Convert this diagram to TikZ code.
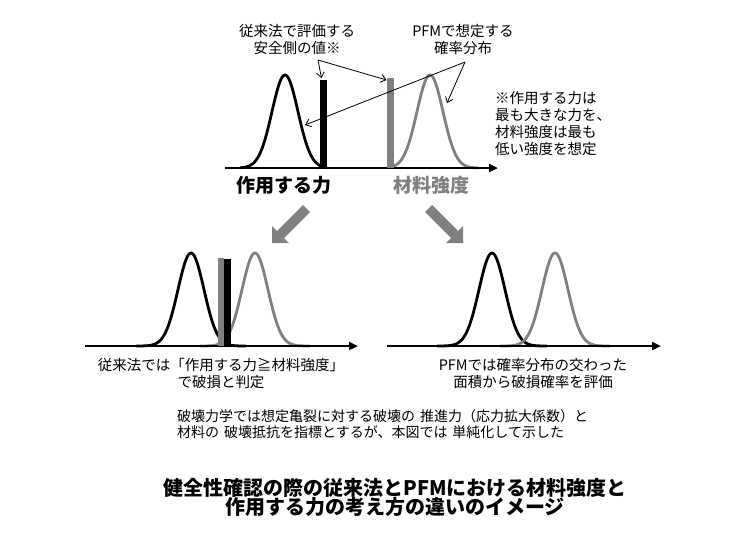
\documentclass[tikz,border=0pt]{standalone}
\usepackage{fontspec}
\setmainfont{Noto Sans CJK JP}
\usetikzlibrary{arrows.meta}
\definecolor{mgray}{RGB}{128,128,128}
\tikzset{
  lbl/.style={inner sep=0pt, font=\fontsize{14.5}{17}\selectfont},
  notetxt/.style={inner sep=0pt, font=\fontsize{14}{16.5}\selectfont},
  boldlbl/.style={inner sep=0pt, font=\fontsize{19}{22}\selectfont\bfseries},
  titletxt/.style={inner sep=0pt, font=\fontsize{20}{19.5}\selectfont\bfseries},
  curveblack/.style={line width=2.8pt, black, line join=round},
  curvegray/.style={line width=2.8pt, mgray, line join=round},
  axisline/.style={line width=2.5pt, black, -{Triangle[length=9pt,width=8pt]}},
  pointer/.style={line width=0.8pt, black, -{Straight Barb[length=5pt,width=8pt]}},
  blockarrow/.style={fill=mgray, draw=none},
}
\begin{document}
\begin{tikzpicture}[x=1pt,y=-1pt]
\useasboundingbox[fill=white] (0,0) rectangle (753,533);

% ---------- top panel ----------
\draw[curveblack] plot[domain=240:327, samples=90] (\x, {168-93*exp(-((\x-285)^2)/338)});
\draw[curvegray] plot[domain=388:478, samples=90] (\x, {168-93*exp(-((\x-430)^2)/338)});
\draw[axisline] (225,168) -- (498,168);
\fill[black] (320,80) rectangle (327,168);
\fill[mgray] (387,78) rectangle (394,168);

\node[lbl, align=center] (t1) at (297,40) {従来法で評価する\\安全側の値※};
\node[lbl, align=center] (t2) at (463,40) {PFMで想定する\\確率分布};
\node[lbl, align=left, anchor=west] (t3) at (495,123.5) {※作用する力は\\最も大きな力を、\\材料強度は最も\\低い強度を想定};
\node[boldlbl] (f1) at (284,185) {作用する力};
\node[boldlbl, text=mgray] (f2) at (431,185) {材料強度};

\coordinate (s1) at (318,60);
\coordinate (e1) at (321.5,78);
\coordinate (e2) at (386.5,80);
\coordinate (s2) at (465,62);
\coordinate (e3) at (447,103);
\coordinate (e4) at (305,125);
\draw[pointer] (s1) -- (e1);
\draw[pointer] (s1) -- (e2);
\draw[pointer] (s2) -- (e3);
\draw[pointer] (s2) -- (e4);

% ---------- block arrows ----------
\fill[blockarrow] (272,243) -- (289,243) -- (284,238) -- (310,212) -- (303,205) -- (277,231) -- (272,226) -- cycle;
\fill[blockarrow] (463,243) -- (463,226) -- (458,231) -- (432,205) -- (425,212) -- (451,238) -- (446,243) -- cycle;

% ---------- bottom left panel ----------
\draw[curveblack] plot[domain=136:246, samples=100] (\x, {346-93*exp(-((\x-191)^2)/338)});
\draw[curvegray] plot[domain=200:310, samples=100] (\x, {346-93*exp(-((\x-255)^2)/338)});
\draw[axisline] (85,346) -- (358,346);
\fill[mgray] (218,258) rectangle (224,346);
\fill[black] (224,259) rectangle (231,346);
\node[lbl, align=center] (b1) at (221,373.5) {従来法では「作用する力≧材料強度」\\で破損と判定};

% ---------- bottom right panel ----------
\draw[curveblack] plot[domain=437:547, samples=100] (\x, {346-93*exp(-((\x-492)^2)/338)});
\draw[curvegray] plot[domain=500:610, samples=100] (\x, {346-93*exp(-((\x-555)^2)/338)});
\draw[axisline] (387,346) -- (661,346);
\node[lbl, align=center] (b2) at (533,373.5) {PFMでは確率分布の交わった\\面積から破損確率を評価};

% ---------- notes and title ----------
\node[notetxt, align=left, anchor=west] (n1) at (177,424) {破壊力学では想定亀裂に対する破壊の\hspace{5pt}推進力（応力拡大係数）と\\材料の\hspace{5pt}破壊抵抗を指標とするが、本図では\hspace{5pt}単純化して示した};
\node[titletxt, align=center] (tt) at (395,497.5) {健全性確認の際の従来法とPFMにおける材料強度と\\作用する力の考え方の違いのイメージ};
\end{tikzpicture}
\end{document}
